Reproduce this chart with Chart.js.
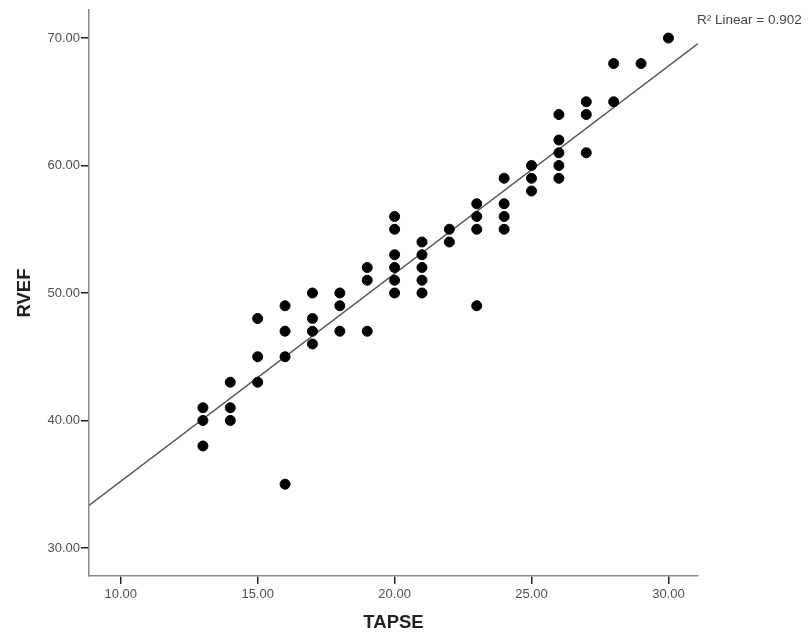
<!DOCTYPE html>
<html>
<head>
<meta charset="utf-8">
<script src="https://cdn.jsdelivr.net/npm/chart.js@4/dist/chart.umd.min.js"></script>
<style>
  html, body { margin: 0; padding: 0; background: #ffffff; }
  #wrap { width: 810px; height: 637px; position: relative; }
</style>
</head>
<body>
<div id="wrap"><canvas id="c" width="810" height="637"></canvas></div>
<script>
// ---- Data ----
const tapse = [13,13,13, 14,14,14, 15,15,15, 16,16,16,16, 17,17,17,17, 18,18,18, 19,19,19,
               20,20,20,20,20,20, 21,21,21,21,21, 22,22, 23,23,23,23, 24,24,24,24, 25,25,25,
               26,26,26,26,26, 27,27,27, 28,28, 29, 30];
const rvef  = [41,40,38, 43,41,40, 48,45,43, 49,47,45,35, 50,48,47,46, 50,49,47, 52,51,47,
               56,55,53,52,51,50, 54,53,52,51,50, 55,54, 57,56,55,49, 59,57,56,55, 60,59,58,
               64,62,61,60,59, 65,64,61, 68,65, 68, 70];
const xTicks = [10, 15, 20, 25, 30];
const yTicks = [30, 40, 50, 60, 70];
const xRange = [8.84, 31.08];
const yRange = [27.8, 72.2];
const fitLabel = 'R\u00B2 Linear = 0.902';
const xTitle = 'TAPSE';
const yTitle = 'RVEF';

// ---- Least-squares fit computed from the data ----
const n = tapse.length;
const mx = tapse.reduce((a,b)=>a+b,0)/n;
const my = rvef.reduce((a,b)=>a+b,0)/n;
let sxy = 0, sxx = 0;
for (let i = 0; i < n; i++) { sxy += (tapse[i]-mx)*(rvef[i]-my); sxx += (tapse[i]-mx)**2; }
const slope = sxy/sxx, intercept = my - slope*mx;

const points = tapse.map((x,i)=>({x:x, y:rvef[i]}));
const fitLine = xRange.map(x=>({x:x, y:intercept + slope*x}));

const labelPlugin = {
  id: 'fitLabel',
  afterDraw(chart) {
    const ctx = chart.ctx;
    ctx.save();
    ctx.font = '13.5px "Liberation Sans", Arial, sans-serif';
    ctx.fillStyle = '#444';
    ctx.textBaseline = 'middle';
    ctx.textAlign = 'left';
    ctx.fillText(fitLabel, 697, 20);
    ctx.restore();
  }
};

const tickFont = { family: '"Liberation Sans", Arial, sans-serif', size: 13 };
const titleFont = { family: '"Liberation Sans", Arial, sans-serif', size: 18.5, weight: 'bold' };

new Chart(document.getElementById('c'), {
  type: 'scatter',
  data: {
    datasets: [
      {
        type: 'line',
        data: fitLine,
        borderColor: '#555',
        borderWidth: 1.3,
        pointRadius: 0,
        fill: false,
        order: 2
      },
      {
        data: points,
        backgroundColor: '#000',
        borderColor: '#000',
        pointRadius: 5,
        pointHoverRadius: 5,
        order: 1
      }
    ]
  },
  options: {
    responsive: false,
    animation: false,
    devicePixelRatio: 1,
    layout: { padding: { left: 0, top: 10, right: 112, bottom: 0 } },
    plugins: { legend: { display: false }, tooltip: { enabled: false } },
    scales: {
      x: {
        type: 'linear',
        min: xRange[0], max: xRange[1],
        afterBuildTicks: s => { s.ticks = xTicks.map(v=>({value:v})); },
        afterFit: s => { s.height = 61; },
        ticks: { callback: v => Number(v).toFixed(2), color: '#505050', font: tickFont, padding: 3, maxRotation: 0 },
        grid: { drawOnChartArea: false, drawTicks: true, tickLength: 8, color: '#222', lineWidth: 1.5 },
        border: { display: true, color: '#8a8a8a', width: 1.5 },
        title: { display: true, text: xTitle, color: '#222', font: titleFont, padding: { top: 0, bottom: 3 } }
      },
      y: {
        type: 'linear',
        min: yRange[0], max: yRange[1],
        afterBuildTicks: s => { s.ticks = yTicks.map(v=>({value:v})); },
        afterFit: s => { s.width = 89; },
        ticks: { callback: v => Number(v).toFixed(2), color: '#505050', font: tickFont, padding: 1 },
        grid: { drawOnChartArea: false, drawTicks: true, tickLength: 8, color: '#222', lineWidth: 1.5 },
        border: { display: true, color: '#8a8a8a', width: 1.5 },
        title: { display: true, text: yTitle, color: '#222', font: titleFont, padding: { top: 14, bottom: 0 } }
      }
    }
  },
  plugins: [labelPlugin]
});
</script>
</body>
</html>
